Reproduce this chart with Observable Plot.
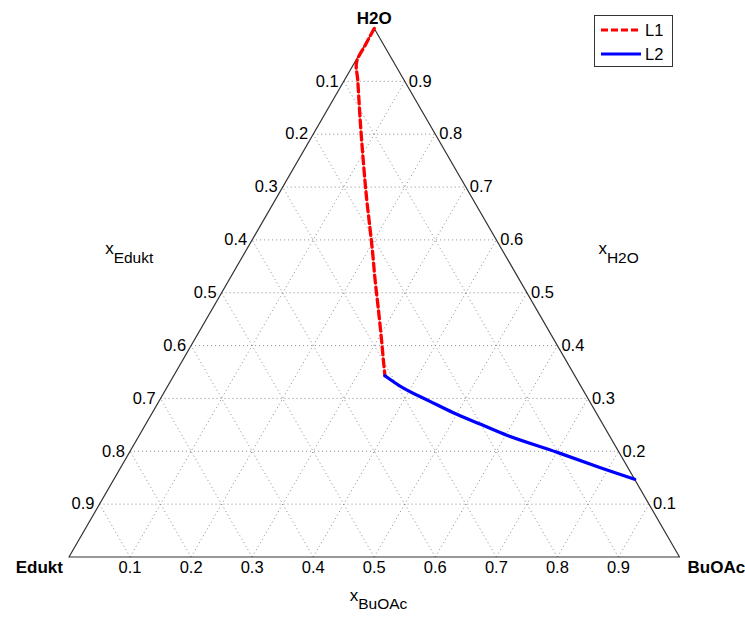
<!DOCTYPE html>
<html><head><meta charset="utf-8">
<script src="https://cdn.jsdelivr.net/npm/d3@7"></script>
<script src="https://cdn.jsdelivr.net/npm/@observablehq/plot@0.6"></script>
<style>
body{margin:0;background:#fff;font-family:"Liberation Sans",Arial,sans-serif}
#wrap{position:relative;width:745px;height:622px}
#legend{position:absolute;left:594px;top:15px;width:79px;height:52px;border:1px solid #333;background:#fff;box-sizing:border-box}
</style></head><body><div id="wrap"></div>
<script>
// ---- data ----
const ticks = [0.1,0.2,0.3,0.4,0.5,0.6,0.7,0.8,0.9];
const tickLabels = ["0.1","0.2","0.3","0.4","0.5","0.6","0.7","0.8","0.9"];
const vertexNames = ["Edukt","BuOAc","H2O"];
const axisTitleMain = ["x","x","x"];
const axisTitleSub = ["Edukt","BuOAc","H2O"];
const seriesNames = ["L1","L2"];
const seriesColors = ["#ff0000","#0000ff"];
// L1 (x_BuOAc, x_H2O)
const L1_BuOAc = [0.000,0.001,0.003,0.022,0.064,0.107,0.145,0.179,0.207,0.240,0.274,0.307,0.329,0.346];
const L1_H2O   = [1.000,0.968,0.936,0.902,0.826,0.750,0.684,0.627,0.580,0.523,0.466,0.410,0.372,0.343];
// L2 (x_BuOAc, x_H2O)
const L2_BuOAc = [0.346,0.389,0.445,0.493,0.549,0.603,0.701,0.786,0.853];
const L2_H2O   = [0.343,0.319,0.294,0.273,0.251,0.230,0.198,0.169,0.147];

// ---- ternary -> cartesian ----
const tx = (b,h) => b + h/2;
const ty = (b,h) => h;
const pt = (b,h) => ({x: tx(b,h), y: ty(b,h)});

const L1 = L1_BuOAc.map((b,i) => pt(b, L1_H2O[i]));
const L2 = L2_BuOAc.map((b,i) => pt(b, L2_H2O[i]));

const grid = [];
ticks.forEach(v => {
  const a1 = pt(0, v), a2 = pt(1-v, v);           // const H2O
  const b1 = pt(v, 0), b2 = pt(v, 1-v);           // const BuOAc
  const c1 = pt(1-v, 0), c2 = pt(0, 1-v);         // const Edukt
  grid.push({x1:a1.x,y1:a1.y,x2:a2.x,y2:a2.y});
  grid.push({x1:b1.x,y1:b1.y,x2:b2.x,y2:b2.y});
  grid.push({x1:c1.x,y1:c1.y,x2:c2.x,y2:c2.y});
});
const outline = [pt(0,0), pt(1,0), pt(0,1), pt(0,0)];
const leftTicks = ticks.map((v,i) => ({...pt(0, 1-v), t: tickLabels[i]}));
const rightTicks = ticks.map((v,i) => ({...pt(1-v, v), t: tickLabels[i]}));
const bottomTicks = ticks.map((v,i) => ({...pt(v, 0), t: tickLabels[i]}));
const vE = pt(0,0), vB = pt(1,0), vH = pt(0,1);
const midLeft = pt(0,0.5), midRight = pt(0.5,0.5), midBottom = pt(0.5,0);

const font = "Liberation Sans, Arial, sans-serif";
const chart = Plot.plot({
  width: 745, height: 622,
  marginLeft: 68.5, marginRight: 66, marginTop: 28, marginBottom: 65.5,
  x: {domain: [0,1], axis: null},
  y: {domain: [0,1], axis: null},
  style: {fontFamily: font, background: "#fff", color: "#000"},
  marks: [
    Plot.link(grid, {x1:"x1", y1:"y1", x2:"x2", y2:"y2", stroke:"#8a8a8a", strokeWidth:1, strokeDasharray:"1,3"}),
    Plot.line(outline, {x:"x", y:"y", stroke:"#333", strokeWidth:1.2}),
    Plot.line(L1, {x:"x", y:"y", stroke:seriesColors[0], strokeWidth:3.3, strokeDasharray:"8,4", curve:"catmull-rom"}),
    Plot.line(L2, {x:"x", y:"y", stroke:seriesColors[1], strokeWidth:3.3, curve:"catmull-rom"}),
    Plot.text(leftTicks, {x:"x", y:"y", text:"t", textAnchor:"end", dx:-5, fontSize:16.5, fill:"#000"}),
    Plot.text(rightTicks, {x:"x", y:"y", text:"t", textAnchor:"start", dx:4, fontSize:16.5, fill:"#000"}),
    Plot.text(bottomTicks, {x:"x", y:"y", text:"t", dy:11, fontSize:16.5, fill:"#000"}),
    Plot.text([vE], {x:"x", y:"y", text:() => vertexNames[0], textAnchor:"end", dx:-6, dy:10.5, fontSize:17, fontWeight:"bold", fill:"#000"}),
    Plot.text([vB], {x:"x", y:"y", text:() => vertexNames[1], textAnchor:"start", dx:8, dy:10.5, fontSize:17, fontWeight:"bold", fill:"#000"}),
    Plot.text([vH], {x:"x", y:"y", text:() => vertexNames[2], dy:-10, fontSize:17, fontWeight:"bold", fill:"#000"}),
    // axis titles x_sub
    Plot.text([midLeft], {x:"x", y:"y", text:() => axisTitleMain[0], textAnchor:"end", dx:-108, dy:-44, fontSize:17, fill:"#000"}),
    Plot.text([midLeft], {x:"x", y:"y", text:() => axisTitleSub[0], textAnchor:"start", dx:-108, dy:-35, fontSize:15.5, fill:"#000"}),
    Plot.text([midBottom], {x:"x", y:"y", text:() => axisTitleMain[1], textAnchor:"end", dx:-16, dy:38.5, fontSize:17, fill:"#000"}),
    Plot.text([midBottom], {x:"x", y:"y", text:() => axisTitleSub[1], textAnchor:"start", dx:-16, dy:47, fontSize:15.5, fill:"#000"}),
    Plot.text([midRight], {x:"x", y:"y", text:() => axisTitleMain[2], textAnchor:"end", dx:80, dy:-44, fontSize:17, fill:"#000"}),
    Plot.text([midRight], {x:"x", y:"y", text:() => axisTitleSub[2], textAnchor:"start", dx:80, dy:-35, fontSize:15.5, fill:"#000"})
  ]
});
const wrap = document.getElementById("wrap");
wrap.appendChild(chart);

// legend
const leg = document.createElement("div");
leg.id = "legend";
const ns = "http://www.w3.org/2000/svg";
const ls = document.createElementNS(ns, "svg");
ls.setAttribute("width", 77); ls.setAttribute("height", 50);
ls.style.display = "block";
seriesNames.forEach((name, i) => {
  const y = 14 + i * 24;
  const ln = document.createElementNS(ns, "line");
  ln.setAttribute("x1", 6); ln.setAttribute("x2", 46);
  ln.setAttribute("y1", y); ln.setAttribute("y2", y);
  ln.setAttribute("stroke", seriesColors[i]);
  ln.setAttribute("stroke-width", 3);
  if (i === 0) ln.setAttribute("stroke-dasharray", "7,3");
  ls.appendChild(ln);
  const tt = document.createElementNS(ns, "text");
  tt.setAttribute("x", 50); tt.setAttribute("y", y + 6);
  tt.setAttribute("font-size", 16.5);
  tt.setAttribute("font-family", font);
  tt.textContent = name;
  ls.appendChild(tt);
});
leg.appendChild(ls);
wrap.appendChild(leg);
</script>
</body></html>
